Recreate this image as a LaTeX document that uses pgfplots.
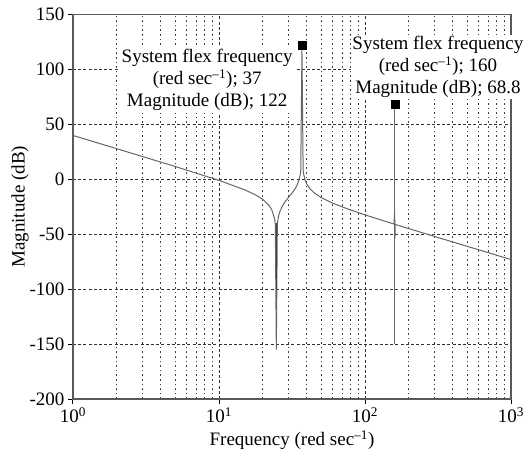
\documentclass[border=0pt]{standalone}
\usepackage{pgfplots}
\pgfplotsset{compat=1.18}
\usepackage{fontspec}
\setmainfont{Liberation Serif}
\begin{document}
\begin{tikzpicture}
\begin{axis}[
  at={(0pt,0pt)}, anchor=south west,
  scale only axis,
  width=438pt, height=384.3pt,
  xmode=log, log basis x=10,
  xmin=1, xmax=1000, ymin=-200, ymax=150,
  xtick={1,10,100,1000},
  minor xtick={2,3,4,5,6,7,8,9,20,30,40,50,60,70,80,90,200,300,400,500,600,700,800,900},
  xticklabels={10\textsuperscript{0},10\textsuperscript{1},10\textsuperscript{2},10\textsuperscript{3}},
  ytick={-200,-150,-100,-50,0,50,100,150},
  yticklabels={-200,-150,-100,-50,0,50,100,150},
  tick pos=left, tick align=outside,
  major tick length=5pt, minor tick length=0pt,
  major tick style={black, line width=1pt},
  axis line style={black!65, line width=1.2pt},
  xmajorgrids, xminorgrids, ymajorgrids,
  major grid style={black!80, line width=0.8pt, dash pattern=on 3pt off 2.2pt},
  minor grid style={black!75, line width=0.9pt, dash pattern=on 1.6pt off 3pt},
  tick label style={font=\fontsize{19}{22}\selectfont},
  label style={font=\fontsize{19}{22}\selectfont},
  xlabel={Frequency (red sec\textsuperscript{–1})},
  ylabel={Magnitude (dB)},
  xlabel style={at={(axis description cs:0.5,-0.107)}, anchor=center},
  ylabel style={at={(axis description cs:-0.121,0.5)}, anchor=center},
  clip=false,
]
\addplot[black!60, line width=1pt] coordinates {
(1,40.0) (2,27.9) (5,11.8) (10,-0.9) (15,-9.5) (18,-14.4) (20,-18.3) (22,-23.6)
(23,-27.8) (24,-35.5) (24.3,-40.4) (24.7,-155) (25.1,-40.4) (25.5,-34.3) (26,-30.0)
(27,-24.9) (28,-21.4) (30,-16.2) (31.5,-12.8) (33,-9.1) (34,-6.1) (35,-2.1) (36,4.2)
(36.3,7.4) (37,118) (37.7,7.8) (38,4.8) (39,-1.1) (40,-4.4) (42,-8.6) (45,-12.4)
(50,-16.5) (60,-21.6) (70,-25.1) (80,-27.9) (100,-32.3) (150,-39.7) (158,-40.7)
(159.6,-28) (160.4,-54) (161,-41) (200,-44.9) (300,-52.0) (500,-60.9) (1000,-73.0)
};
\addplot[black!75, line width=1.6pt] coordinates {(24.7,-40) (24.7,-100)};
\addplot[black!60, line width=1.1pt] coordinates {(160,-150) (160,68.8)};
\addplot[only marks, mark=square*, mark size=4pt, black] coordinates {(37,122) (160,68.8)};
\node[fill=white, inner sep=2pt, align=center, font=\fontsize{19}{22}\selectfont]
  at (axis cs:8.3,90.5) {System flex frequency\\(red sec\textsuperscript{–1}); 37\\Magnitude (dB); 122};
\node[fill=white, inner sep=1pt, align=center, font=\fontsize{19}{22}\selectfont]
  at (axis cs:316,102.4) {System flex frequency\\(red sec\textsuperscript{–1}); 160\\Magnitude (dB); 68.8};
\end{axis}
\pgfresetboundingbox
\path[use as bounding box] (-73pt,-59pt) rectangle (454pt,399pt);
\end{tikzpicture}
\end{document}
